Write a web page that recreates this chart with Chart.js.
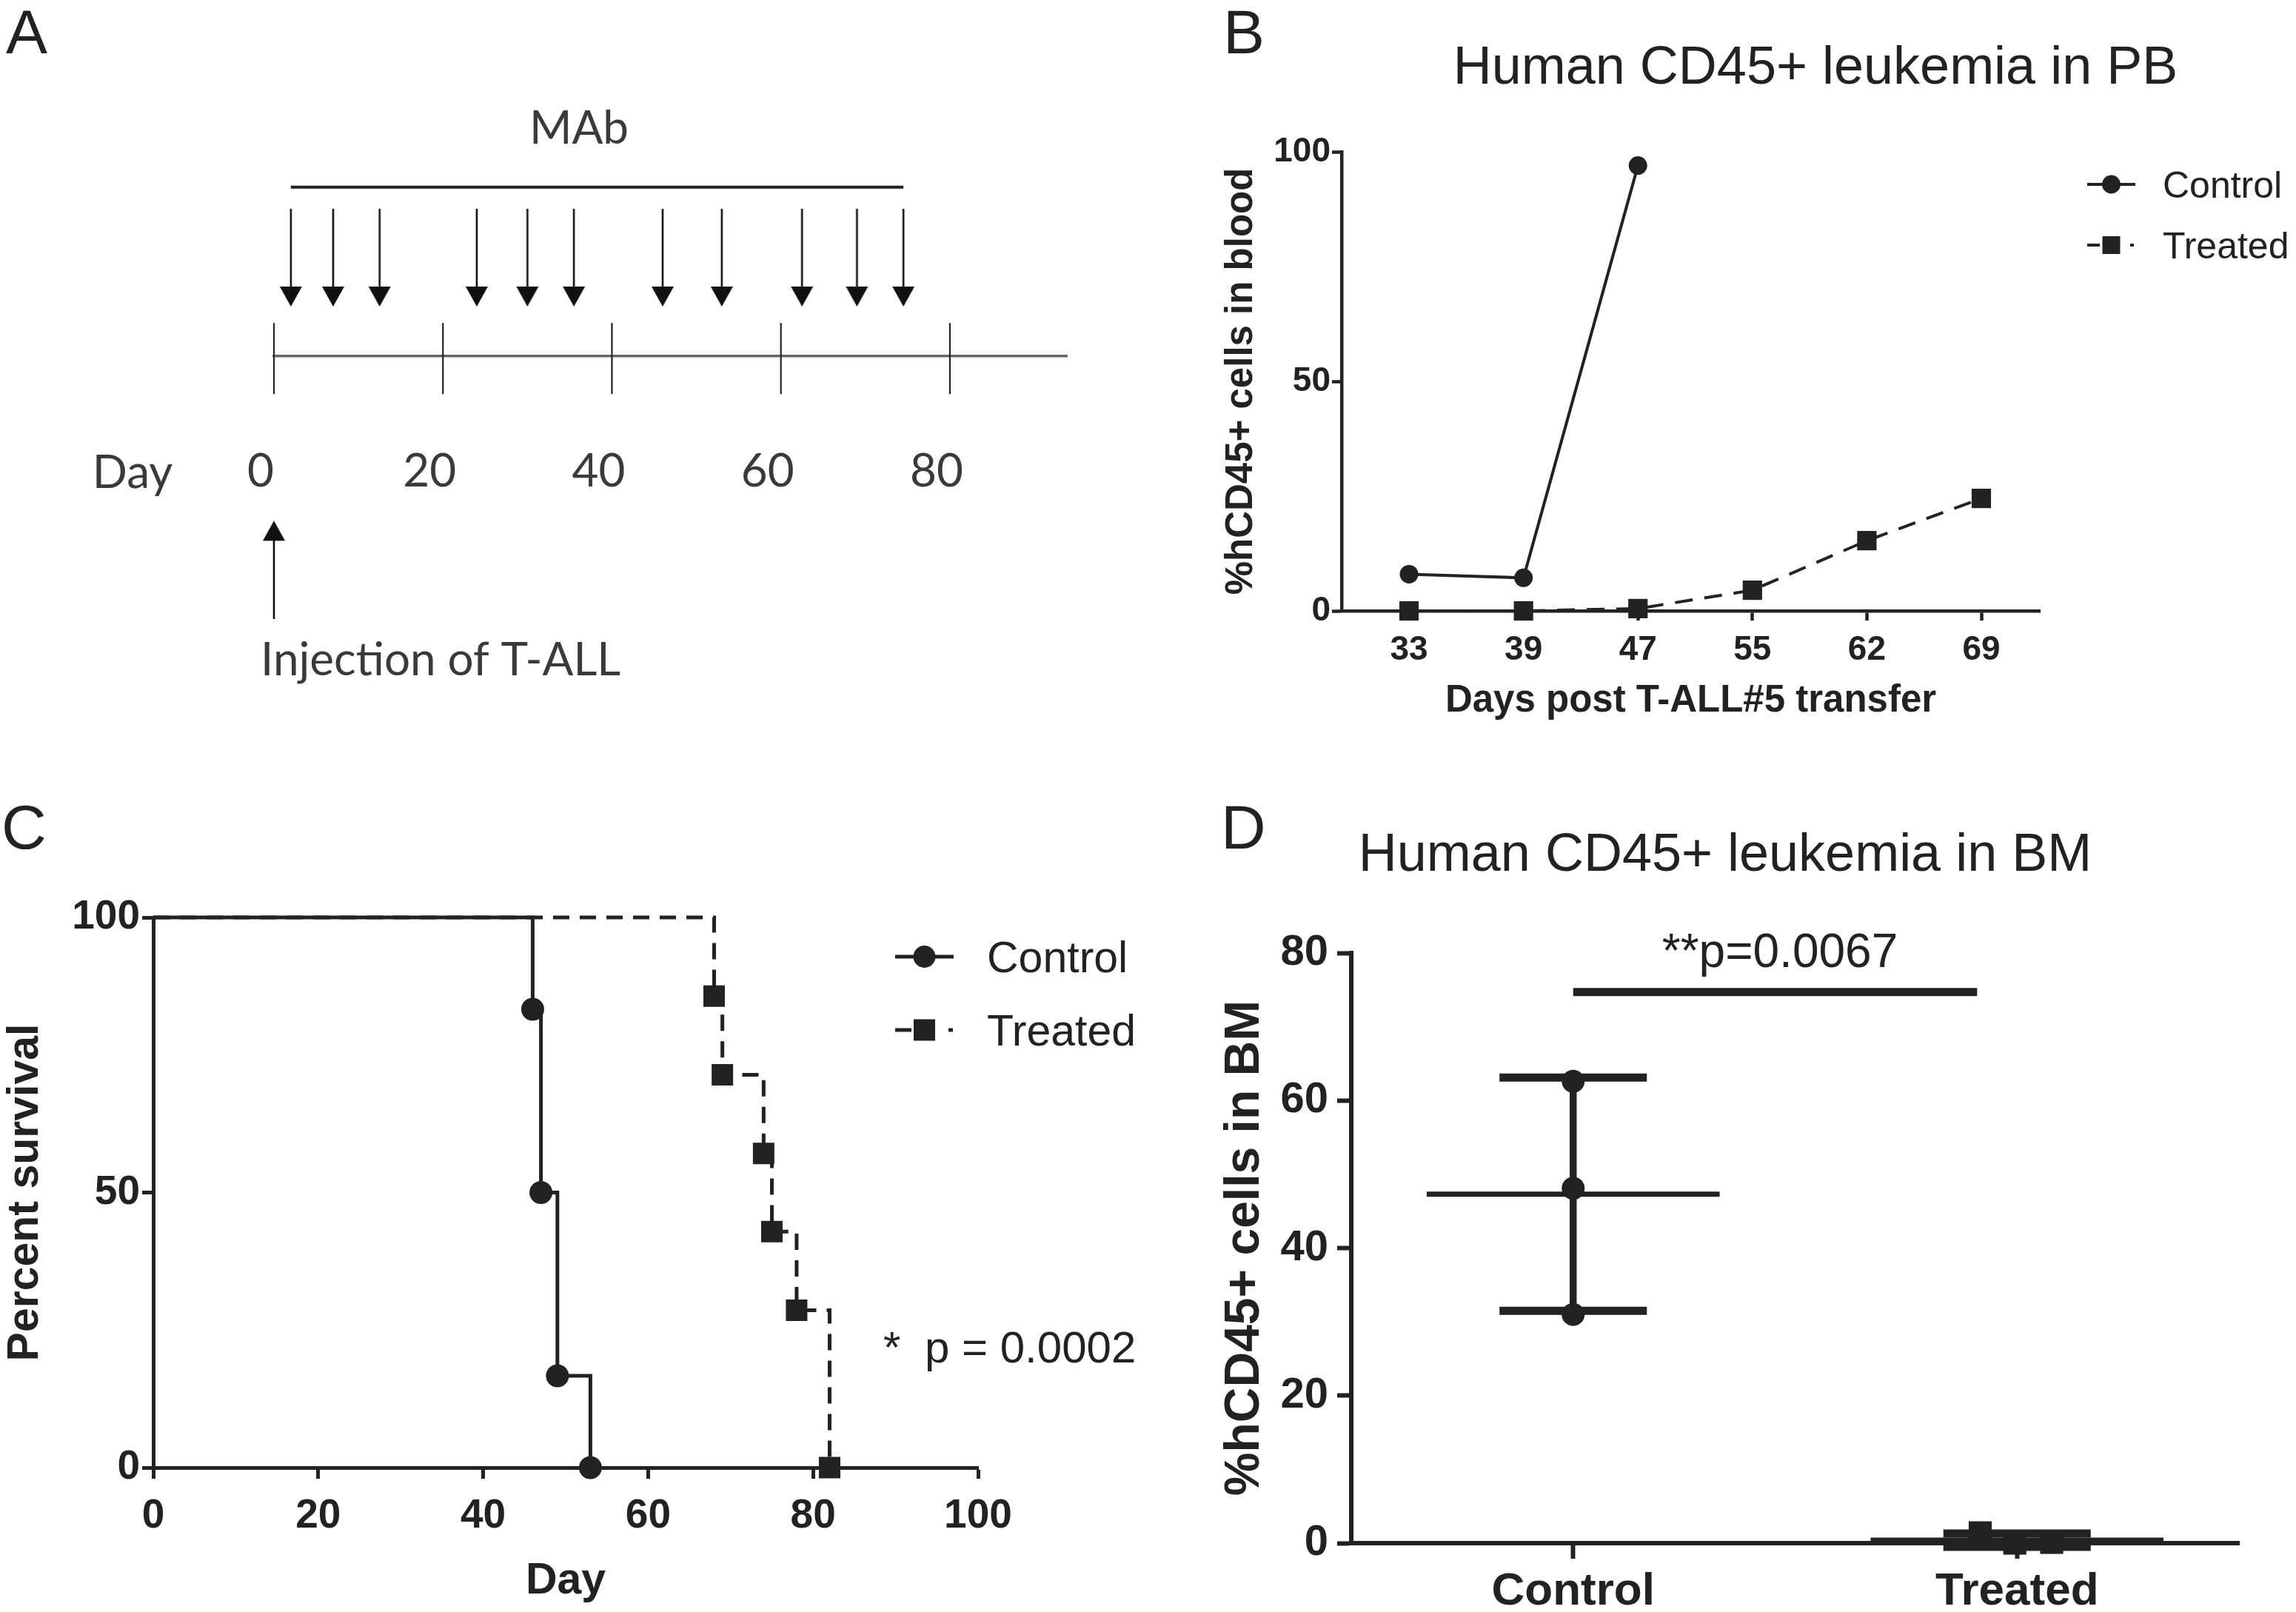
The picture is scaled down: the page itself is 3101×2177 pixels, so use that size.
<!DOCTYPE html>
<html>
<head>
<meta charset="utf-8">
<title>Anti-T-ALL MAb treatment</title>
<script src="https://cdn.jsdelivr.net/npm/chart.js@4.4.1/dist/chart.umd.min.js"></script>
<style>
  html, body { margin: 0; padding: 0; background: #fff; }
  #page { position: relative; width: 3101px; height: 2177px; background: #fff; overflow: hidden; }
  #page canvas { position: absolute; }
</style>
</head>
<body>
<div id="page">
  <canvas id="chartA"></canvas>
  <canvas id="chartB"></canvas>
  <canvas id="chartC"></canvas>
  <canvas id="chartD"></canvas>
</div>
<script>
// ---- data ----
// A: treatment schedule (days)
const scheduleTicks = [0, 20, 40, 60, 80];
const mabDays = [2, 7, 12.5, 24, 30, 35.5, 46, 53, 62.5, 69, 74.5];
const injectionDay = [0];

// B: %hCD45+ cells in blood
const pbDays = ['33', '39', '47', '55', '62', '69'];
const pbControl = [8, 7.2, 97, null, null, null];
const pbTreated = [0, 0, 0.5, 4.5, 15.3, 24.5];

// C: survival
const survControlDays = [0, 46, 47, 49, 53];
const survControl = [100, 83.3, 50, 16.7, 0];
const survTreatedDays = [0, 68, 69, 74, 75, 78, 82];
const survTreated = [100, 85.7, 71.4, 57.1, 42.9, 28.6, 0];

// D: %hCD45+ cells in BM
const bmGroups = ['Control', 'Treated'];
const bmControl = [62.6, 48.1, 31.0];
const bmTreated = [1.4, 0, 0.1];
const bmMean = [47.3, 0.4];
const bmSD = [15.8, 0.9];

// ---- look ----
const INK = '#222';
const SANS = '"Liberation Sans", Arial, Helvetica, sans-serif';
const HAND = 'Lato, "Open Sans", sans-serif';
const bold = size => ({ family: SANS, size: size, weight: 'bold', lineHeight: 1 });

function place(id, r) {
    const c = document.getElementById(id);
    c.width = r.w;
    c.height = r.h;
    c.style.left = r.x + 'px';
    c.style.top = r.y + 'px';
    return c;
}

// layout padding so the plot area lands where the figure has it
function pad(r, a, yw, xh) {
    return { left: a.l - yw - r.x, right: r.x + r.w - a.r, top: a.t - r.y, bottom: r.y + r.h - a.b - xh };
}

// force the axis box size, drop the label overflow padding
function fixBox(size) {
    return s => {
        if (s.isHorizontal()) s.height = size; else s.width = size;
        s.paddingLeft = s.paddingRight = s.paddingTop = s.paddingBottom = 0;
    };
}

function gpAxis(o) {
    return {
        type: 'linear', min: o.min, max: o.max,
        afterBuildTicks: o.tickValues ? (s => { s.ticks = o.tickValues.map(v => ({ value: v })); }) : undefined,
        ticks: { stepSize: o.step, callback: o.label || (v => v), font: bold(o.tickSize), color: INK,
                 padding: o.tickPad, maxRotation: 0, autoSkip: false },
        grid: { drawOnChartArea: false, drawTicks: true, tickLength: o.tickLen, tickWidth: o.line, tickColor: INK },
        border: { display: true, color: INK, width: o.line },
        title: o.title ? { display: true, text: o.title, font: bold(o.titleSize), color: INK, padding: 0 } : { display: false },
        afterFit: fixBox(o.box)
    };
}

// free text (page coordinates)
const figureText = {
    id: 'figureText',
    afterDraw(chart, args, o) {
        const ctx = chart.ctx;
        ctx.save();
        (o.items || []).forEach(t => {
            ctx.font = t.font;
            ctx.fillStyle = t.color || INK;
            ctx.textAlign = t.align || 'left';
            ctx.textBaseline = 'alphabetic';
            ctx.fillText(t.text, t.x - o.origin[0], t.y - o.origin[1]);
        });
        ctx.restore();
    }
};

// GraphPad style legend: line, marker, label
const gpLegend = {
    id: 'gpLegend',
    afterDraw(chart, args, o) {
        if (!o.rows) return;
        const ctx = chart.ctx;
        const ox = o.origin[0], oy = o.origin[1];
        chart.data.datasets.forEach((ds, i) => {
            if (o.rows[i] === undefined) return;
            const y = o.rows[i] - oy, x0 = o.x0 - ox, x1 = o.x1 - ox, xm = (x0 + x1) / 2;
            ctx.save();
            ctx.strokeStyle = ds.borderColor;
            ctx.lineWidth = ds.borderWidth;
            ctx.setLineDash(o.dash[i]);
            ctx.beginPath(); ctx.moveTo(x0, y); ctx.lineTo(x1, y); ctx.stroke();
            ctx.setLineDash([]);
            ctx.fillStyle = ds.borderColor;
            const r = o.marker[i];
            ctx.beginPath();
            if (ds.pointStyle === 'rect') ctx.rect(xm - r, y - r, 2 * r, 2 * r);
            else ctx.arc(xm, y, r, 0, Math.PI * 2);
            ctx.fill();
            ctx.font = o.font;
            ctx.textAlign = 'left';
            ctx.textBaseline = 'alphabetic';
            ctx.fillText(ds.label, o.textX - ox, y + o.capShift);
            ctx.restore();
        });
    }
};

const common = { responsive: false, animation: false, events: [] };

// ================= A: schedule =================
const rectA = { x: 0, y: 0, w: 1560, h: 1000 };
const areaA = { l: 370, r: 1441, t: 150, b: 900 };
const ARROW_ROW = 0.35, BRACKET_ROW = 0.6, INJECT_ROW = -0.758;

function arrowImage(len, up) {
    const c = document.createElement('canvas');
    c.width = 32; c.height = len;
    const g = c.getContext('2d');
    const head = 27;
    g.fillStyle = '#111'; g.strokeStyle = '#111'; g.lineWidth = 2.6;
    g.save();
    if (up) { g.translate(0, len); g.scale(1, -1); }
    g.beginPath(); g.moveTo(16, 0); g.lineTo(16, len - head + 2); g.stroke();
    g.beginPath(); g.moveTo(1, len - head); g.lineTo(31, len - head); g.lineTo(16, len); g.closePath(); g.fill();
    g.restore();
    return c;
}
const arrowDown = arrowImage(132, false);
const arrowUp = arrowImage(133, true);

const crossTicks = {
    id: 'crossTicks',
    afterDraw(chart) {
        const ctx = chart.ctx, xs = chart.scales.x, y0 = chart.scales.y.getPixelForValue(0);
        ctx.save();
        ctx.strokeStyle = '#222';
        ctx.lineWidth = 2.2;
        scheduleTicks.forEach(d => {
            const x = xs.getPixelForValue(d);
            ctx.beginPath(); ctx.moveTo(x, y0 - 45); ctx.lineTo(x, y0 + 51); ctx.stroke();
        });
        ctx.restore();
    }
};

new Chart(place('chartA', rectA), {
    type: 'scatter',
    data: {
        datasets: [
            { data: mabDays.map(d => ({ x: d, y: ARROW_ROW })), pointStyle: arrowDown, pointRadius: 6, clip: false },
            { data: injectionDay.map(d => ({ x: d, y: INJECT_ROW })), pointStyle: arrowUp, pointRadius: 6, clip: false },
            { type: 'line', data: [mabDays[0], mabDays[mabDays.length - 1]].map(d => ({ x: d, y: BRACKET_ROW })),
              borderColor: '#222', borderWidth: 4, pointRadius: 0, clip: false }
        ]
    },
    options: {
        ...common,
        layout: { padding: pad(rectA, areaA, 0, 0) },
        plugins: {
            legend: { display: false }, tooltip: { enabled: false },
            figureText: {
                origin: [rectA.x, rectA.y],
                items: [
                    { text: 'A', x: 8, y: 72, font: '84px ' + SANS },
                    { text: 'MAb', x: 782, y: 194, align: 'center', font: '62px ' + HAND, color: '#3a3a3a' },
                    { text: 'Day', x: 179, y: 659, align: 'center', font: '62px ' + HAND, color: '#3a3a3a' },
                    { text: 'Injection of T-ALL', x: 352, y: 912, font: '62px ' + HAND, color: '#3a3a3a' }
                ]
            }
        },
        scales: {
            x: {
                type: 'linear', min: 0, max: 93.85, position: { y: 0 },
                afterBuildTicks: s => { s.ticks = scheduleTicks.map(v => ({ value: v })); },
                ticks: { font: { family: HAND, size: 62, lineHeight: 1 }, color: '#3a3a3a', padding: 125,
                         labelOffset: -18, maxRotation: 0, autoSkip: false },
                grid: { display: false, drawTicks: false },
                border: { display: true, color: '#666', width: 3.5 },
                afterFit: fixBox(0)
            },
            y: { display: false, min: -1.1, max: 0.87 }
        }
    },
    plugins: [crossTicks, figureText]
});

// ================= B: leukemia in PB =================
const rectB = { x: 1600, y: 0, w: 1501, h: 1000 };
const areaB = { l: 1812, r: 2755, t: 205, b: 825 };

new Chart(place('chartB', rectB), {
    type: 'line',
    data: {
        datasets: [
            { label: 'Control', data: pbControl.map((v, i) => ({ x: i, y: v })),
              borderColor: INK, borderWidth: 4, pointStyle: 'circle', pointRadius: 12.5,
              pointBackgroundColor: INK, pointBorderWidth: 0, clip: false, order: 0 },
            { label: 'Treated', data: pbTreated.map((v, i) => ({ x: i, y: v })),
              borderColor: INK, borderWidth: 4, borderDash: [24, 16], pointStyle: 'rect', pointRadius: 18.5,
              pointBackgroundColor: INK, pointBorderWidth: 0, clip: false, order: 1 }
        ]
    },
    options: {
        ...common,
        layout: { padding: pad(rectB, areaB, 160.5, 147.5) },
        plugins: {
            legend: { display: false }, tooltip: { enabled: false },
            figureText: {
                origin: [rectB.x, rectB.y],
                items: [
                    { text: 'B', x: 1652, y: 72, font: '84px ' + SANS },
                    { text: 'Human CD45+ leukemia in PB', x: 2452, y: 113, align: 'center', font: '72px ' + SANS }
                ]
            },
            gpLegend: {
                origin: [rectB.x, rectB.y], rows: [249, 331], x0: 2819, x1: 2884, textX: 2921,
                font: '50px ' + SANS, capShift: 18, marker: [12.5, 12], dash: [[], [17, 41, 5, 20]]
            }
        },
        scales: {
            x: gpAxis({ min: -0.589, max: 5.511, tickValues: pbDays.map((d, i) => i), label: v => pbDays[v],
                        tickSize: 46, tickPad: 17, tickLen: 13, line: 4.5, box: 147.5,
                        title: 'Days post T-ALL#5 transfer', titleSize: 51 }),
            y: gpAxis({ min: 0, max: 100, step: 50, tickSize: 46, tickPad: 2, tickLen: 13, line: 4.5, box: 160.5,
                        title: '%hCD45+ cells in blood', titleSize: 51 })
        }
    },
    plugins: [figureText, gpLegend]
});

// ================= C: survival =================
const rectC = { x: 0, y: 1060, w: 1600, h: 1117 };
const areaC = { l: 207, r: 1321, t: 1239, b: 1982 };

new Chart(place('chartC', rectC), {
    type: 'line',
    data: {
        datasets: [
            { label: 'Control', data: survControlDays.map((d, i) => ({ x: d, y: survControl[i] })), stepped: true,
              borderColor: INK, borderWidth: 5, pointStyle: 'circle', pointRadius: survControl.map((v, i) => i ? 15.5 : 0),
              pointBackgroundColor: INK, pointBorderWidth: 0, clip: false, order: 0 },
            { label: 'Treated', data: survTreatedDays.map((d, i) => ({ x: d, y: survTreated[i] })), stepped: true,
              borderColor: INK, borderWidth: 5, borderDash: [22, 14], pointStyle: 'rect',
              pointRadius: survTreated.map((v, i) => i ? 20.5 : 0),
              pointBackgroundColor: INK, pointBorderWidth: 0, clip: false, order: 1 }
        ]
    },
    options: {
        ...common,
        layout: { padding: pad(rectC, areaC, 201.5, 183.5) },
        plugins: {
            legend: { display: false }, tooltip: { enabled: false },
            figureText: {
                origin: [rectC.x, rectC.y],
                items: [
                    { text: 'C', x: 2, y: 1146, font: '84px ' + SANS },
                    { text: '*', x: 1193, y: 1840, font: '60px ' + SANS },
                    { text: 'p = 0.0002', x: 1249, y: 1840, font: '60px ' + SANS }
                ]
            },
            gpLegend: {
                origin: [rectC.x, rectC.y], rows: [1292, 1391], x0: 1209, x1: 1288, textX: 1333,
                font: '59px ' + SANS, capShift: 21, marker: [15, 14.5], dash: [[], [22, 50, 6, 20]]
            }
        },
        scales: {
            x: gpAxis({ min: 0, max: 100, step: 20, tickSize: 55, tickPad: 23.5, tickLen: 15, line: 5, box: 183.5,
                        title: 'Day', titleSize: 59 }),
            y: gpAxis({ min: 0, max: 100, step: 50, tickSize: 55, tickPad: 3, tickLen: 15, line: 5, box: 201.5,
                        title: 'Percent survival', titleSize: 59 })
        }
    },
    plugins: [figureText, gpLegend]
});

// ================= D: leukemia in BM =================
const rectD = { x: 1620, y: 1060, w: 1481, h: 1117 };
const areaD = { l: 1825, r: 3024, t: 1287, b: 2084 };
const controlJitter = [0, 0, 0];
const treatedJitter = [-0.083, -0.005, 0.078];
const MEAN_HALF = 0.33, CAP_HALF = 0.166;
const SIG = { from: 0, to: 0.91, y: 74.7 };

const segs = pairs => pairs.flatMap(p => [p[0], p[1], { x: p[0].x, y: null }]);
const meanSegs = segs(bmMean.map((m, g) => [{ x: g - MEAN_HALF, y: m }, { x: g + MEAN_HALF, y: m }]));
const sdSegs = segs(bmMean.map((m, g) => [{ x: g, y: m - bmSD[g] }, { x: g, y: m + bmSD[g] }]));
const capSegs = segs(bmMean.flatMap((m, g) => [-1, 1].map(k =>
    [{ x: g - CAP_HALF, y: m + k * bmSD[g] }, { x: g + CAP_HALF, y: m + k * bmSD[g] }])));

const barLine = w => ({ borderColor: INK, borderWidth: w, pointRadius: 0, spanGaps: false, clip: false, order: 2 });

new Chart(place('chartD', rectD), {
    type: 'line',
    data: {
        datasets: [
            { label: 'Control', data: bmControl.map((v, i) => ({ x: 0 + controlJitter[i], y: v })), showLine: false,
              pointStyle: 'circle', pointRadius: 15.5, pointBackgroundColor: INK, pointBorderWidth: 0, clip: false, order: 0 },
            { label: 'Treated', data: bmTreated.map((v, i) => ({ x: 1 + treatedJitter[i], y: v })), showLine: false,
              pointStyle: 'rect', pointRadius: 22, pointBackgroundColor: INK, pointBorderWidth: 0, clip: false, order: 0 },
            { data: meanSegs, ...barLine(7) },
            { data: sdSegs, ...barLine(9.5) },
            { data: capSegs, ...barLine(11) },
            { data: [{ x: SIG.from, y: SIG.y }, { x: SIG.to, y: SIG.y }], ...barLine(11) }
        ]
    },
    options: {
        ...common,
        layout: { padding: pad(rectD, areaD, 176, 90) },
        plugins: {
            legend: { display: false }, tooltip: { enabled: false },
            figureText: {
                origin: [rectD.x, rectD.y],
                items: [
                    { text: 'D', x: 1649, y: 1146, font: '84px ' + SANS },
                    { text: 'Human CD45+ leukemia in BM', x: 2330, y: 1176, align: 'center', font: '72px ' + SANS },
                    { text: '**p=0.0067', x: 2404, y: 1306, align: 'center', font: '64px ' + SANS }
                ]
            }
        },
        scales: {
            x: gpAxis({ min: -0.5, max: 1.5, tickValues: [0, 1], label: v => bmGroups[v],
                        tickSize: 62, tickPad: 14, tickLen: 21, line: 6, box: 90 }),
            y: gpAxis({ min: 0, max: 80, step: 20, tickSize: 58, tickPad: 12, tickLen: 19, line: 6, box: 176,
                        title: '%hCD45+ cells in BM', titleSize: 66 })
        }
    },
    plugins: [figureText]
});
</script>
</body>
</html>
